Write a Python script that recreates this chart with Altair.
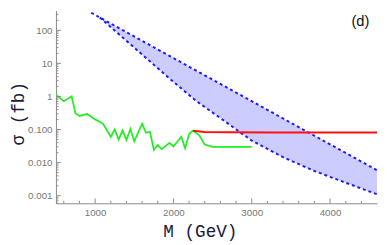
import altair as alt
import pandas as pd

# ---- data ----
band_m = [1060, 1400, 1700, 2000, 2300, 2600, 3000, 3400, 3800, 4200, 4600]
band_upper = [244, 87.7, 35.6, 14.5, 5.88, 2.39, 0.719, 0.216, 0.065, 0.0196, 0.0059]
band_lower = [243, 48.2, 11.5, 2.76, 0.706, 0.222, 0.0464, 0.0146, 0.0056, 0.00247, 0.00111]

upper_m = [950] + band_m
upper_v = [339] + band_upper

green_m = [500, 600, 700, 750, 800, 900, 1000, 1100, 1200, 1250, 1300, 1350, 1400,
           1450, 1500, 1600, 1650, 1700, 1750, 1800, 1850, 1950, 2000, 2100, 2150,
           2200, 2250, 2330, 2400, 2500, 3000]
green_v = [1.12, 0.72, 1.01, 0.305, 0.258, 0.297, 0.203, 0.152, 0.0596, 0.101, 0.0496,
           0.0933, 0.0479, 0.1035, 0.0442, 0.151, 0.0798, 0.0855, 0.0246, 0.0341, 0.0256,
           0.0396, 0.0308, 0.0608, 0.0272, 0.0731, 0.0927, 0.0673, 0.0352, 0.0301, 0.0301]

red_m = [2250, 2400, 2700, 3200, 4600]
red_v = [0.0927, 0.085, 0.0825, 0.082, 0.0815]

x_major = [1000, 2000, 3000, 4000]
x_minor = [600, 800, 1200, 1400, 1600, 1800, 2200, 2400, 2600, 2800, 3200, 3400,
           3600, 3800, 4200, 4400]
y_major = [0.001, 0.01, 0.1, 1, 10, 100]
y_minor = [m * d for d in [0.0001, 0.001, 0.01, 0.1, 1, 10, 100] for m in range(2, 10)]
y_minor = [v for v in y_minor if 0.000591 < v < 398]

panel_label = ["(d)"]

W, H = 328, 197
XDOM = [500, 4600]
YDOM = [0.000591, 398]
GRAY = "#8a8a8a"

xs = alt.Scale(domain=XDOM, nice=False, zero=False)
ys = alt.Scale(type="log", domain=YDOM, nice=False)

x_axis = alt.Axis(values=x_major, format="d", title="M (GeV)", ticks=False, tickSize=0,
                  grid=False, labelColor="#777777", labelFont="Liberation Sans",
                  labelFontSize=10, labelPadding=4, domainColor=GRAY,
                  titleFont="Liberation Mono", titleFontSize=18, titleFontWeight="normal",
                  titleColor="#1a1a3a", titleX=147, titleY=29, titleBaseline="middle")
y_axis = alt.Axis(values=y_major, title="σ (fb)", ticks=False, tickSize=0, grid=False,
                  labelColor="#777777", labelFont="Liberation Sans", labelFontSize=10,
                  labelPadding=4, domainColor=GRAY,
                  labelExpr="datum.value >= 1 ? format(datum.value, 'd') : format(datum.value, '.3f')",
                  titleFont="Liberation Mono", titleFontSize=18, titleFontWeight="normal",
                  titleColor="#1a1a3a", titleX=-38, titleY=105, titleBaseline="middle",
                  titleAlign="center", titleAngle=270)

band_df = pd.DataFrame({"M": band_m, "v": band_upper, "v2": band_lower})
upper_df = pd.DataFrame({"M": upper_m, "v": upper_v})
lower_df = pd.DataFrame({"M": band_m, "v": band_lower})
green_df = pd.DataFrame({"M": green_m, "v": green_v})
red_df = pd.DataFrame({"M": red_m, "v": red_v})

band = alt.Chart(band_df).mark_area(color="#ccccff", opacity=1, clip=True).encode(
    x=alt.X("M:Q", scale=xs, axis=x_axis),
    y=alt.Y("v:Q", scale=ys, axis=y_axis),
    y2="v2:Q",
)

dash = dict(color="#1a1aff", strokeWidth=2, strokeDash=[3, 3], clip=True)
upper = alt.Chart(upper_df).mark_line(**dash).encode(x="M:Q", y="v:Q")
lower = alt.Chart(lower_df).mark_line(**dash).encode(x="M:Q", y="v:Q")
green = alt.Chart(green_df).mark_line(color="#22ee22", strokeWidth=1.8, clip=True).encode(
    x="M:Q", y="v:Q")
red = alt.Chart(red_df).mark_line(color="#ff1010", strokeWidth=2, clip=True).encode(
    x="M:Q", y="v:Q")

xt_major = alt.Chart(pd.DataFrame({"M": x_major})).mark_rule(color=GRAY).encode(
    x="M:Q", y=alt.value(H), y2=alt.value(H - 5))
xt_minor = alt.Chart(pd.DataFrame({"M": x_minor})).mark_rule(color=GRAY).encode(
    x="M:Q", y=alt.value(H), y2=alt.value(H - 2.5))
yt_major = alt.Chart(pd.DataFrame({"v": y_major})).mark_rule(color=GRAY).encode(
    y="v:Q", x=alt.value(0), x2=alt.value(5))
yt_minor = alt.Chart(pd.DataFrame({"v": y_minor})).mark_rule(color=GRAY).encode(
    y="v:Q", x=alt.value(0), x2=alt.value(2.5))

label = alt.Chart(pd.DataFrame({"t": panel_label})).mark_text(
    font="Liberation Sans", fontSize=15, color="#111111", align="center", baseline="middle"
).encode(x=alt.value(311), y=alt.value(11), text="t:N")

chart = alt.layer(band, upper, lower, green, red, xt_major, xt_minor, yt_major, yt_minor,
                  label).properties(
    width=W, height=H,
    autosize=alt.AutoSizeParams(type="none"),
    padding={"left": 49, "top": 0, "right": 2, "bottom": 36},
).configure_view(stroke=None)

chart.save("out.html", embed_options={"renderer": "svg", "actions": False})
